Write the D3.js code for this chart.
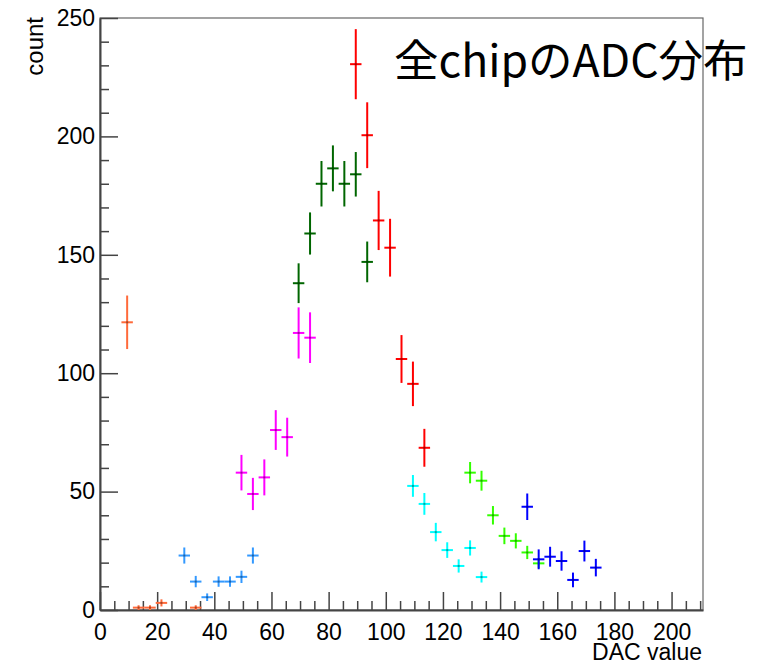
<!DOCTYPE html>
<html>
<head>
<meta charset="utf-8">
<script src="https://cdn.jsdelivr.net/npm/d3@7"></script>
<style>
    body { margin: 0; background: #fff; }
    #plot_adc { width: 768px; height: 665px; }
    .axis text { font-family: "Liberation Sans", Arial, sans-serif; font-size: 23px; fill: #000; }
</style>
</head>
<body>
<div id="plot_adc"></div>
<script>
// bin centres, counts and errors per chip
const orangeX = [9.5, 13.5, 17.5, 21.5, 33.5];
const orangeY = [121.5, 1, 1, 3, 1];
const orangeErr = [11.3, 1, 1, 1.5, 1];

const azureX = [29.5, 33.5, 37.5, 41.5, 45.5, 49.5, 53.5];
const azureY = [23, 12, 5.4, 12, 12, 14, 23];
const azureErr = [3.4, 2.4, 1.6, 2.2, 2.2, 2.6, 3.4];

const magentaX = [49.5, 53.5, 57.5, 61.5, 65.5, 69.5, 73.5];
const magentaY = [58, 49, 56, 76, 73, 117, 115];
const magentaErr = [7.5, 6.8, 7.6, 8.4, 8.2, 10.8, 10.7];

const darkGreenX = [69.5, 73.5, 77.5, 81.5, 85.5, 89.5, 93.5];
const darkGreenY = [138, 159, 180, 186.5, 180, 184, 147];
const darkGreenErr = [8.4, 8.9, 9.6, 9.7, 9.6, 9.4, 8.6];

const redX = [89.5, 93.5, 97.5, 101.5, 105.5, 109.5, 113.5];
const redY = [230.5, 200.5, 164.5, 153, 106, 95.5, 68.5];
const redErr = [14.8, 13.9, 12.5, 12.2, 10.1, 9.4, 8.0];

const cyanX = [109.5, 113.5, 117.5, 121.5, 125.5, 129.5, 133.5];
const cyanY = [52.4, 44.8, 32.9, 25.3, 18.6, 26.2, 13.9];
const cyanErr = [4.6, 4.6, 3.9, 3.3, 2.8, 3.2, 2.3];

const greenX = [129.5, 133.5, 137.5, 141.5, 145.5, 149.5, 153.5];
const greenY = [58, 54.6, 40, 31.3, 29.2, 24.3, 19.7];
const greenErr = [4.5, 4.2, 3.9, 3.5, 3.2, 2.8, 2.1];

const blueX = [149.5, 153.5, 157.5, 161.5, 165.5, 169.5, 173.5];
const blueY = [43.6, 21.4, 22.5, 20.7, 12.7, 24.9, 17.9];
const blueErr = [5.6, 4.2, 4.2, 4.1, 3.1, 4.4, 3.7];

const binHalfWidth = 2;

const xMajorTicks = [0, 20, 40, 60, 80, 100, 120, 140, 160, 180, 200];
const yMajorTicks = [0, 50, 100, 150, 200, 250];

const series = [
    { x: orangeX, y: orangeY, err: orangeErr, color: "#ff6a3a" },
    { x: azureX, y: azureY, err: azureErr, color: "#3399ff" },
    { x: magentaX, y: magentaY, err: magentaErr, color: "#ff00ff" },
    { x: darkGreenX, y: darkGreenY, err: darkGreenErr, color: "#006600" },
    { x: redX, y: redY, err: redErr, color: "#ff0000" },
    { x: cyanX, y: cyanY, err: cyanErr, color: "#00ffff" },
    { x: greenX, y: greenY, err: greenErr, color: "#33ff00" },
    { x: blueX, y: blueY, err: blueErr, color: "#0000ff" }
];

function draw_chart() {
    const window_w = 768, window_h = 665;

    let svg = d3.select("#plot_adc")
        .append("svg")
        .attr("width", window_w)
        .attr("height", window_h);

    const xScale = d3.scaleLinear()
        .domain([0, 211])
        .range([100, 703]);

    const yScale = d3.scaleLinear()
        .domain([0, 250])
        .range([610, 18]);

    // frame
    svg.append("rect")
        .attr("x", 100)
        .attr("y", 18)
        .attr("width", 603)
        .attr("height", 592)
        .attr("fill", "none")
        .attr("stroke", "#666")
        .attr("stroke-width", 1.2);

    let axis = svg.append("g").attr("class", "axis");

    // minor ticks first, then the labelled ones
    const xMinor = d3.range(0, 211, 5).filter(d => d % 20 !== 0);
    const yMinor = d3.range(0, 251, 10).filter(d => d % 50 !== 0);

    axis.append("g")
        .attr("transform", "translate(0,610)")
        .call(d3.axisBottom(xScale).tickValues(xMinor).tickSize(-9).tickFormat(""))
        .call(g => g.select(".domain").remove());

    axis.append("g")
        .attr("transform", "translate(0,610)")
        .call(d3.axisBottom(xScale).tickValues(xMajorTicks).tickSizeInner(-18).tickSizeOuter(0).tickPadding(14).tickFormat(d3.format("d")));

    axis.append("g")
        .attr("transform", "translate(100,0)")
        .call(d3.axisLeft(yScale).tickValues(yMinor).tickSize(-9).tickFormat(""))
        .call(g => g.select(".domain").remove());

    axis.append("g")
        .attr("transform", "translate(100,0)")
        .call(d3.axisLeft(yScale).tickValues(yMajorTicks).tickSizeInner(-18).tickSizeOuter(0).tickPadding(5).tickFormat(d3.format("d")));

    axis.selectAll("line, path")
        .attr("stroke", "#444")
        .attr("stroke-width", 1.5);
    axis.selectAll(".domain").attr("stroke-width", 2);

    // axis titles
    axis.append("text")
        .attr("transform", "translate(43,17) rotate(-90)")
        .attr("text-anchor", "end")
        .style("font-size", "24px")
        .text("count");

    axis.append("text")
        .attr("x", 702)
        .attr("y", 660)
        .attr("text-anchor", "end")
        .style("font-size", "23px")
        .text("DAC value");

    // error-bar crosses
    let points = svg.append("g").attr("class", "points");

    for (let s of series) {
        const rows = s.x.map((d, i) => ({ x: d, y: s.y[i], e: s.err[i] }));
        let g = points.append("g");

        g.selectAll("line.v")
            .data(rows)
            .enter()
            .append("line")
            .attr("x1", d => xScale(d.x))
            .attr("x2", d => xScale(d.x))
            .attr("y1", d => yScale(d.y - d.e))
            .attr("y2", d => yScale(d.y + d.e))
            .attr("stroke", s.color)
            .attr("stroke-width", 2);

        g.selectAll("line.h")
            .data(rows)
            .enter()
            .append("line")
            .attr("x1", d => xScale(d.x - binHalfWidth))
            .attr("x2", d => xScale(d.x + binHalfWidth))
            .attr("y1", d => yScale(d.y))
            .attr("y2", d => yScale(d.y))
            .attr("stroke", s.color)
            .attr("stroke-width", 2);

        // small marker dot in the middle
        g.selectAll("rect")
            .data(rows)
            .enter()
            .append("rect")
            .attr("x", d => xScale(d.x) - 1)
            .attr("y", d => yScale(d.y) - 1)
            .attr("width", 2)
            .attr("height", 2)
            .attr("fill", "#000")
            .attr("opacity", 0.35);
    }

    // title text placed over the plot
    svg.append("text")
        .attr("x", 394)
        .attr("y", 77)
        .attr("font-family", "'Noto Sans CJK JP', sans-serif")
        .attr("font-size", 44.5)
        .attr("fill", "#000")
        .text("全chipのADC分布");
}
draw_chart()
</script>
</body>
</html>
